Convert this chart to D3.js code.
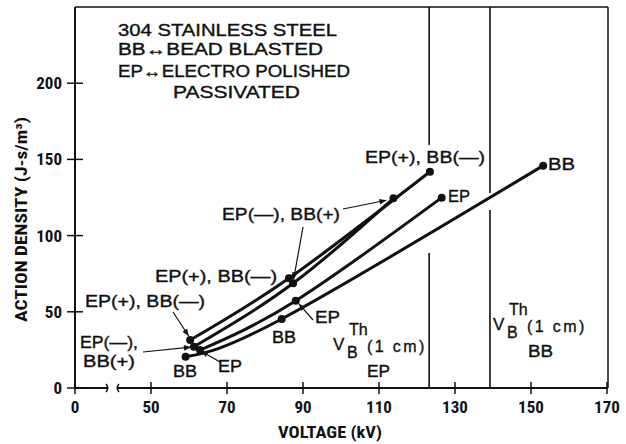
<!DOCTYPE html>
<html>
<head>
<meta charset="utf-8">
<script src="https://cdn.jsdelivr.net/npm/d3@7"></script>
<style>
  html, body { margin: 0; padding: 0; background: #fff; }
  svg { display: block; }
  .lbl { font-family: "Liberation Sans", Arial, Helvetica, sans-serif; font-size: 16px; fill: #111; stroke: #111; stroke-width: 0.35px; }
  .tick { font-family: "Liberation Sans Narrow", "Roboto Condensed", "DejaVu Sans Condensed", "Liberation Sans", sans-serif; font-weight: bold; font-size: 17px; fill: #111; }
  .axt { font-family: "Liberation Sans Narrow", "Roboto Condensed", "DejaVu Sans Condensed", "Liberation Sans", sans-serif; font-weight: bold; fill: #111; }
</style>
</head>
<body>
<svg id="chart" width="626" height="444"></svg>
<script>
// ---------------- data ----------------
const xTickValues = [0, 50, 70, 90, 110, 130, 150, 170];
const xTickLabels = ["0", "50", "70", "90", "110", "130", "150", "170"];
const yTickValues = [0, 50, 100, 150, 200];
const yTickLabels = ["0", "50", "100", "150", "200"];

const seriesNames = ["EP(+), BB(—)", "EP(—), BB(+)", "EP", "BB"];
const epPlusVolt  = [60.3, 86.3, 123.4];
const epPlusAct   = [31.5, 72.0, 141.9];
const epMinusVolt = [61.3, 87.4, 113.8];
const epMinusAct  = [27.1, 68.7, 124.5];
const epVolt      = [62.9, 88.1, 126.5];
const epAct       = [24.9, 57.3, 124.9];
const bbVolt      = [59.1, 84.4, 153.2];
const bbAct       = [20.5, 45.3, 145.9];

const thresholdNames = ["EP", "BB"];
const thresholdVolt  = [123.2, 139.2];

const titleLines = ["304 STAINLESS STEEL", "BB\u2194BEAD BLASTED", "EP\u2194ELECTRO POLISHED", "PASSIVATED"];
const xTitle = "VOLTAGE (kV)";
const yTitle = "ACTION DENSITY (J-s/m\u00B3)";

// ---------------- layout ----------------
const svg = d3.select("#chart");
const L = 75, R = 608, T = 7, B = 388;

// broken axis: 0 .. 50 compressed
const x = d3.scaleLinear().domain([0, 50, 170]).range([L, 151, 607]);
const y = d3.scaleLinear().domain([0, 250]).range([B, T]);

const ink = "#111";

// arrow marker
svg.append("defs").append("marker")
  .attr("id", "ah").attr("viewBox", "0 0 10 10").attr("refX", 10).attr("refY", 5)
  .attr("markerWidth", 9).attr("markerHeight", 7).attr("markerUnits", "userSpaceOnUse")
  .attr("orient", "auto")
  .append("path").attr("d", "M0,1 L10,5 L0,9 Z").attr("fill", ink);

// frame
const frame = svg.append("g").attr("stroke", ink).attr("fill", "none");
frame.append("line").attr("x1", L).attr("x2", L).attr("y1", T).attr("y2", B).attr("stroke-width", 2);
frame.append("line").attr("x1", L).attr("x2", R).attr("y1", T).attr("y2", T).attr("stroke-width", 1.5);
frame.append("line").attr("x1", R).attr("x2", R).attr("y1", T).attr("y2", B).attr("stroke-width", 1.5);
// bottom axis with break
frame.append("line").attr("x1", L).attr("x2", 108).attr("y1", B).attr("y2", B).attr("stroke-width", 2);
frame.append("line").attr("x1", 117).attr("x2", R).attr("y1", B).attr("y2", B).attr("stroke-width", 2);
frame.append("path").attr("d", `M106,${B-4} Q109.5,${B} 106,${B+4}`).attr("stroke-width", 1.5);
frame.append("path").attr("d", `M119,${B-4} Q115.5,${B} 119,${B+4}`).attr("stroke-width", 1.5);

// x ticks
xTickValues.forEach((v, i) => {
  frame.append("line").attr("x1", x(v)).attr("x2", x(v)).attr("y1", B - 6).attr("y2", B + 6).attr("stroke-width", 1.5);
  svg.append("text").attr("class", "tick").attr("x", x(v)).attr("y", 413)
    .attr("text-anchor", "middle").text(xTickLabels[i]);
});
// y ticks
yTickValues.forEach((v, i) => {
  frame.append("line").attr("x1", L - 8).attr("x2", L + 8).attr("y1", y(v)).attr("y2", y(v)).attr("stroke-width", 1.5);
  svg.append("text").attr("class", "tick").attr("x", 62).attr("y", y(v) + 6)
    .attr("text-anchor", "end").text(yTickLabels[i]);
});

// axis titles
svg.append("text").attr("class", "axt").attr("font-size", 17)
  .attr("x", 278).attr("y", 438).attr("textLength", 104).attr("lengthAdjust", "spacingAndGlyphs").text(xTitle);
svg.append("text").attr("class", "axt").attr("font-size", 16)
  .attr("transform", "translate(27,322) rotate(-90)")
  .attr("textLength", 205).attr("lengthAdjust", "spacingAndGlyphs").text(yTitle);

// threshold vertical lines (with gaps for label / crossing curve)
const gaps = [[159.4, 88.6], [128, 116.8]];
thresholdVolt.forEach((v, i) => {
  const g = gaps[i];
  svg.append("line").attr("x1", x(v)).attr("x2", x(v)).attr("y1", T).attr("y2", y(g[0]))
    .attr("stroke", ink).attr("stroke-width", 1.6);
  svg.append("line").attr("x1", x(v)).attr("x2", x(v)).attr("y1", y(g[1])).attr("y2", B)
    .attr("stroke", ink).attr("stroke-width", 1.6);
});

// curves
const series = [
  { name: seriesNames[0], v: epPlusVolt,  a: epPlusAct },
  { name: seriesNames[1], v: epMinusVolt, a: epMinusAct },
  { name: seriesNames[2], v: epVolt,      a: epAct },
  { name: seriesNames[3], v: bbVolt,      a: bbAct }
];
const line = d3.line().x(d => x(d[0])).y(d => y(d[1])).curve(d3.curveNatural);
series.forEach(s => {
  const pts = s.v.map((v, i) => [v, s.a[i]]);
  svg.append("path").attr("d", line(pts)).attr("fill", "none")
    .attr("stroke", ink).attr("stroke-width", 3).attr("stroke-linecap", "round");
  svg.selectAll(null).data(pts).enter().append("circle")
    .attr("cx", d => x(d[0])).attr("cy", d => y(d[1])).attr("r", 4).attr("fill", ink);
});

// text helper
function txt(str, px, py, w, opts = {}) {
  const t = svg.append("text").attr("class", "lbl").attr("x", px).attr("y", py).text(str);
  if (w) t.attr("textLength", w).attr("lengthAdjust", "spacingAndGlyphs");
  if (opts.size) t.attr("font-size", opts.size);
  return t;
}
function arrow(x1, y1, x2, y2) {
  svg.append("line").attr("x1", x1).attr("y1", y1).attr("x2", x2).attr("y2", y2)
    .attr("stroke", ink).attr("stroke-width", 1.2).attr("marker-end", "url(#ah)");
}

// title block
txt(titleLines[0], 118, 36, 219);
txt(titleLines[1], 118, 55, 205);
txt(titleLines[2], 118, 77, 232);
txt(titleLines[3], 173, 98, 127);

// curve labels
txt(seriesNames[0], 365, 163, 120);         // top end
txt(seriesNames[1], 222, 220, 118);         // upper middle
txt(seriesNames[0], 155, 282, 122);         // middle
txt(seriesNames[0], 85, 307, 120);          // lower left
txt("EP(—),", 80, 348, 58);
txt("BB(+)", 83, 367, 52);
txt(seriesNames[2], 448, 202, 22);
txt(seriesNames[3], 548, 170, 27);
txt(seriesNames[3], 173, 377, 24);
txt(seriesNames[2], 218, 372, 24);
txt(seriesNames[3], 272, 343, 24);
txt(seriesNames[2], 315, 323, 25);

// arrows to points
const pEM = series[1], pEP = series[0], pE = series[2];
arrow(343, 209, x(pEM.v[2]) - 7, y(pEM.a[2]) + 2);
arrow(303, 227, x(pEM.v[1]) + 0.5, y(pEM.a[1]) - 4);
arrow(173, 312, x(pEP.v[0]) - 1.5, y(pEP.a[0]) - 4);
arrow(143, 352, x(pEM.v[0]) - 3, y(pEM.a[0]) + 0.5);
arrow(220, 362, x(pE.v[0]) + 1, y(pE.a[0]) + 1);
arrow(313, 320, x(pE.v[1]) + 3, y(pE.a[1]) + 3);

// threshold labels: one text element with tspans (V, subscript B, superscript Th, "(1 cm)")
function thLabel(vx, vy, nm, nx, ny, nw) {
  const t = svg.append("text").attr("class", "lbl").attr("x", vx).attr("y", vy);
  t.append("tspan").text("V").attr("font-size", 17);
  t.append("tspan").attr("x", vx + 14).attr("dy", 8).text("B");
  t.append("tspan").attr("x", vx + 16).attr("dy", -23).text("Th");
  t.append("tspan").attr("x", vx + 34).attr("dy", 17).attr("letter-spacing", 2.4).text("(1 cm)");
  txt(nm, nx, ny, nw);
}
thLabel(333, 350, thresholdNames[0], 367, 377, 23);
thLabel(493, 330, thresholdNames[1], 528, 357, 25);
</script>
</body>
</html>
